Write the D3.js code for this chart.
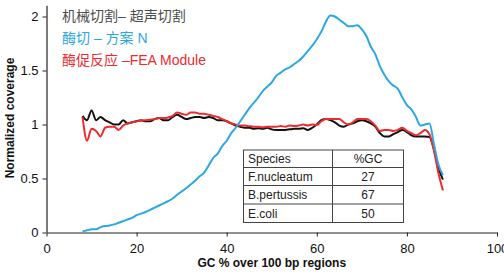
<!DOCTYPE html>
<html>
<head>
<meta charset="utf-8">
<script src="https://cdn.jsdelivr.net/npm/d3@7"></script>
<style>
html,body{margin:0;padding:0;background:#fff;}
svg{display:block;}
</style>
</head>
<body>
<svg id="chart" width="504" height="275"></svg>
<script>
// ---- data ----
const gcPercent = d3.range(8, 89, 1);
const sonication = [1.08,1.04,1.13,1.04,1.07,1.04,1.02,1.0,1.0,1.04,1.01,1.02,1.03,1.04,1.03,1.03,1.05,1.06,1.04,1.04,1.07,1.09,1.07,1.05,1.06,1.07,1.07,1.06,1.07,1.06,1.04,1.04,1.03,1.01,0.99,0.98,0.97,0.97,0.96,0.965,0.96,0.97,0.955,0.95,0.95,0.95,0.955,0.96,0.96,0.965,0.95,0.97,1.0,1.04,1.05,1.04,1.02,0.99,0.98,1.0,1.01,1.03,1.04,1.03,1.01,0.98,0.92,0.89,0.89,0.91,0.93,0.95,0.93,0.90,0.89,0.89,0.89,0.885,0.77,0.60,0.49];
const enzymaticN = [0.01,0.02,0.03,0.03,0.05,0.06,0.065,0.075,0.09,0.105,0.12,0.135,0.16,0.175,0.19,0.21,0.23,0.25,0.27,0.29,0.315,0.35,0.38,0.41,0.445,0.48,0.52,0.555,0.62,0.69,0.73,0.80,0.85,0.92,0.97,1.03,1.09,1.15,1.20,1.25,1.31,1.35,1.39,1.45,1.48,1.51,1.53,1.56,1.59,1.63,1.68,1.73,1.79,1.86,1.95,2.01,2.0,1.97,1.94,1.91,1.91,1.92,1.88,1.82,1.72,1.65,1.54,1.46,1.40,1.36,1.33,1.25,1.18,1.14,1.07,0.99,1.0,1.01,0.82,0.63,0.53];
const feaModule = [1.07,0.85,0.96,0.94,0.89,0.97,0.98,0.98,0.95,0.99,1.01,1.02,1.03,1.035,1.04,1.045,1.05,1.06,1.06,1.065,1.08,1.11,1.10,1.09,1.11,1.11,1.10,1.10,1.09,1.08,1.07,1.05,1.03,1.01,1.00,0.99,0.99,0.985,0.98,0.98,0.975,0.98,0.98,0.98,0.985,0.98,0.99,0.985,0.99,1.0,0.99,1.0,0.995,1.03,1.05,1.05,1.05,1.05,1.02,1.0,1.02,1.05,1.05,1.05,1.03,0.99,0.94,0.95,0.95,0.94,0.95,0.97,0.94,0.92,0.90,0.92,0.95,0.91,0.76,0.55,0.39];
const seriesNames = ["机械切割– 超声切割", "酶切 – 方案 N", "酶促反应 –FEA Module"];
const seriesColors = ["#4d4d4d", "#29a9e0", "#ee2a2f"];
const lineColors = ["#111111", "#29a9e0", "#ee2a2f"];
const xTicks = [0, 20, 40, 60, 80, 100];
const yTicks = [0, 0.5, 1, 1.5, 2];
const yTickLabels = ["0", "0.5", "1", "1.5", "2"];
const tableHeader = ["Species", "%GC"];
const species = ["F.nucleatum", "B.pertussis", "E.coli"];
const speciesGC = [27, 67, 50];

// ---- layout ----
const svg = d3.select("#chart");
const x = d3.scaleLinear().domain([0, 100]).range([46.5, 497]);
const y = d3.scaleLinear().domain([0, 2.1]).range([232.5, 5.7]);
const font = "'Liberation Sans', Arial, 'Noto Sans CJK SC', sans-serif";

// axes
const xAxis = svg.append("g").attr("transform", `translate(0,${y(0)})`)
  .call(d3.axisBottom(x).tickValues(xTicks).tickSize(4).tickSizeOuter(0).tickPadding(7));
const yAxis = svg.append("g").attr("transform", `translate(${x(0)},0)`)
  .call(d3.axisLeft(y).tickValues(yTicks).tickFormat((d,i)=>yTickLabels[i]).tickSize(4).tickSizeOuter(0).tickPadding(4));
[xAxis, yAxis].forEach(g => {
  g.selectAll("path.domain").attr("stroke", "#222").attr("stroke-width", 1.2);
  g.selectAll(".tick line").attr("stroke", "#222");
  g.selectAll(".tick text").attr("fill", "#111").style("font-family", font).style("font-size", "13px");
});
yAxis.select("path.domain").attr("d", `M0.5,${y(0)}V${y(2.1)}`);

// axis titles
svg.append("text").attr("x", x(50)).attr("y", 267).attr("text-anchor", "middle")
  .style("font-family", font).style("font-size", "12px").style("font-weight", "bold").attr("fill", "#111")
  .text("GC % over 100 bp regions");
svg.append("text").attr("transform", `translate(14,118) rotate(-90)`).attr("text-anchor", "middle")
  .style("font-family", font).style("font-size", "12px").style("font-weight", "bold").attr("fill", "#111")
  .text("Normalized coverage");

// lines
const line = d3.line().x((d,i)=>x(gcPercent[i])).y(d=>y(d)).curve(d3.curveMonotoneX);
const series = [sonication, feaModule, enzymaticN];
const colorsOrder = [lineColors[0], lineColors[2], lineColors[1]];
series.forEach((s, k) => {
  svg.append("path").datum(s).attr("d", line).attr("fill", "none")
    .attr("stroke", colorsOrder[k]).attr("stroke-width", 2).attr("stroke-linejoin", "round");
});

// legend text
const legendY = [20.5, 42.5, 65];
seriesNames.forEach((n, i) => {
  svg.append("text").attr("x", 62).attr("y", legendY[i])
    .style("font-family", font).style("font-size", "14px").attr("fill", seriesColors[i]).text(n);
});

// table
const tbl = svg.append("g");
const tLeft = 243.5, tMid = 332.5, tRight = 403.5;
const rowsY = [150, 167.5, 185.5, 204, 222.5];
tbl.append("rect").attr("x", tLeft).attr("y", rowsY[0]).attr("width", tRight - tLeft).attr("height", rowsY[4] - rowsY[0])
  .attr("fill", "#fff").attr("stroke", "#444").attr("stroke-width", 1);
rowsY.slice(1, 4).forEach(ry => tbl.append("line").attr("x1", tLeft).attr("x2", tRight).attr("y1", ry).attr("y2", ry).attr("stroke", "#444"));
tbl.append("line").attr("x1", tMid).attr("x2", tMid).attr("y1", rowsY[0]).attr("y2", rowsY[4]).attr("stroke", "#444");
const rows = [tableHeader].concat(species.map((s, i) => [s, String(speciesGC[i])]));
rows.forEach((r, i) => {
  const by = (rowsY[i] + rowsY[i+1]) / 2 + 4.5;
  tbl.append("text").attr("x", tLeft + 4.5).attr("y", by).style("font-family", font).style("font-size", "12px").attr("fill", "#222").text(r[0]);
  tbl.append("text").attr("x", (tMid + tRight) / 2).attr("y", by).attr("text-anchor", "middle").style("font-family", font).style("font-size", "12px").attr("fill", "#222").text(r[1]);
});
</script>
</body>
</html>
